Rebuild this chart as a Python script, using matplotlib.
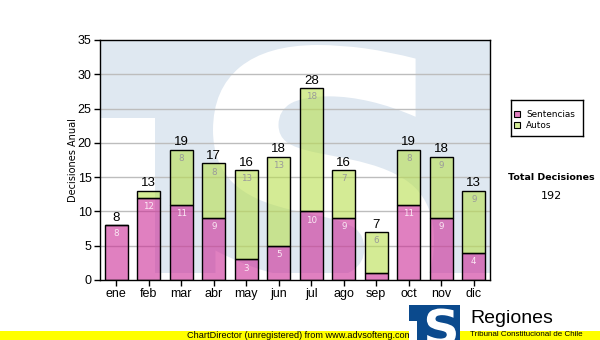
import matplotlib
matplotlib.use("Agg")
import matplotlib.pyplot as plt
from matplotlib.patches import Rectangle, PathPatch
from matplotlib.textpath import TextPath
from matplotlib.font_manager import FontProperties
from matplotlib.transforms import Affine2D

# Monthly decisions
months = ["ene", "feb", "mar", "abr", "may", "jun", "jul", "ago", "sep", "oct", "nov", "dic"]
sentencias = [8, 12, 11, 9, 3, 5, 10, 9, 1, 11, 9, 4]
autos = [0, 1, 8, 8, 13, 13, 18, 7, 6, 8, 9, 9]
y_ticks = [0, 5, 10, 15, 20, 25, 30, 35]
total_decisiones = sum(sentencias) + sum(autos)

W, H = 600, 340
fig = plt.figure(figsize=(W / 100, H / 100), dpi=100)
fig.patch.set_facecolor("white")

ax = fig.add_axes([100 / W, (H - 280) / H, 390 / W, 240 / H])
ax.set_facecolor("white")

LIGHT = "#dfe8f1"
YELLOW = "#ffff00"


def draw_logo(a, blue, stem_x, bar_y, s_box):
    """Square emblem: coloured field, white notch lower-left and a white S."""
    a.add_patch(Rectangle((0, bar_y[0]), 1, 1 - bar_y[0], transform=a.transAxes,
                          facecolor=blue, edgecolor="none", zorder=0))
    a.add_patch(Rectangle((0, 0), stem_x, bar_y[1], transform=a.transAxes,
                          facecolor="white", edgecolor="none", zorder=0.1))
    tp = TextPath((0, 0), "S", size=1, prop=FontProperties(family="DejaVu Sans", weight="bold"))
    ext = tp.get_extents()
    x0, x1, y0, y1 = s_box
    tr = (Affine2D().translate(-ext.x0, -ext.y0)
          .scale((x1 - x0) / ext.width, (y1 - y0) / ext.height)
          .translate(x0, y0) + a.transAxes)
    a.add_patch(PathPatch(tp, transform=tr, facecolor="white", edgecolor="none", zorder=0.2))


# background emblem inside the plot area
draw_logo(ax, LIGHT, 55 / 390, (7 / 240, 162 / 240),
          ((213 - 100) / 390, (434 - 100) / 390, (280 - 330) / 240, (280 - 45) / 240))

x = list(range(len(months)))
bw = 0.71
pink = (0.80, 0.17, 0.59, 0.6)
green = (0.72, 0.87, 0.31, 0.6)

ax.bar(x, sentencias, width=bw, color=pink, edgecolor="black", linewidth=1.0, zorder=3)
ax.bar(x, autos, width=bw, bottom=sentencias, color=green, edgecolor="black", linewidth=1.0, zorder=3)

for i in x:
    s, a_ = sentencias[i], autos[i]
    if s >= 2:
        ax.annotate(str(s), (i, s), xytext=(0, -3), textcoords="offset points",
                    ha="center", va="top", fontsize=6.3, color="#fbe8f4",
                    family="DejaVu Sans", zorder=4)
    if a_ >= 2:
        ax.annotate(str(a_), (i, s + a_), xytext=(0, -3), textcoords="offset points",
                    ha="center", va="top", fontsize=6.3, color="#9a9a9a",
                    family="DejaVu Sans", zorder=4)
    ax.annotate(str(s + a_), (i, s + a_), xytext=(0, 1), textcoords="offset points",
                ha="center", va="bottom", fontsize=9.5, color="black",
                family="Liberation Sans", zorder=4)

ax.set_xlim(-0.5, len(months) - 0.5)
ax.set_ylim(0, 35)
ax.set_yticks(y_ticks)
ax.set_xticks(x)
ax.set_xticklabels(months)
for lbl in ax.get_xticklabels() + ax.get_yticklabels():
    lbl.set_family("Liberation Sans")
    lbl.set_fontsize(9)
ax.tick_params(axis="both", direction="out", length=4, width=1, color="black", pad=2)
for y in y_ticks[1:-1]:
    ax.axhline(y, color="#bdbdbd", linewidth=1.0, zorder=1)
for sp in ax.spines.values():
    sp.set_color("black")
    sp.set_linewidth(1.0)
    sp.set_zorder(5)
fig.text(73 / W, 1 - 160 / H, "Decisiones Anual", rotation=90, ha="center", va="center",
         family="DejaVu Sans", fontsize=7)

# legend
leg_ax = fig.add_axes([511 / W, (H - 136) / H, 72 / W, 36 / H])
leg_ax.set_xlim(0, 72)
leg_ax.set_ylim(36, 0)
leg_ax.set_xticks([])
leg_ax.set_yticks([])
for sp in leg_ax.spines.values():
    sp.set_linewidth(1.0)
    sp.set_color("black")
for yy, col, name in [(14, "#e07fc0", "Sentencias"), (25, "#d6ee98", "Autos")]:
    leg_ax.add_patch(Rectangle((3, yy - 3), 6, 6, facecolor=col, edgecolor="black", linewidth=0.8))
    leg_ax.text(15, yy, name, va="center", ha="left", fontsize=6.4, family="DejaVu Sans")

fig.text(551 / W, 1 - 178 / H, "Total Decisiones", ha="center", va="center",
         fontsize=6.8, fontweight="bold", family="DejaVu Sans")
fig.text(551 / W, 1 - 196 / H, str(total_decisiones), ha="center", va="center",
         fontsize=8, family="DejaVu Sans")

# footer band, drawn in a pixel-space overlay
footer = fig.add_axes([0, 0, 1, 1], zorder=2)
footer.set_axis_off()
footer.set_xlim(0, W)
footer.set_ylim(H, 0)
footer.add_patch(Rectangle((0, 331), W, 9, facecolor=YELLOW, edgecolor="none", zorder=1))
footer.text(300, 335.5, "ChartDirector (unregistered) from www.advsofteng.com",
            ha="center", va="center", fontsize=6.6, family="Liberation Sans", zorder=2)

logo_ax = fig.add_axes([409 / W, 0, 51 / W, 35 / H], zorder=3)
logo_ax.set_axis_off()
draw_logo(logo_ax, "#0b4a8d", 0.16, (0.0, 0.55), (0.35, 0.92, -0.15, 0.9))

title_ax = fig.add_axes([0, 0, 1, 1], zorder=4)
title_ax.set_axis_off()
title_ax.set_xlim(0, W)
title_ax.set_ylim(H, 0)
title_ax.add_patch(Rectangle((460, 331), W - 460, 9, facecolor=YELLOW, edgecolor="none", zorder=1))
title_ax.text(470, 323, "Regiones", ha="left", va="baseline",
              fontsize=14, family="Liberation Sans", zorder=2)
title_ax.text(470, 331.5, "Tribunal Constitucional de Chile", ha="left", va="top",
              fontsize=5.8, family="Liberation Sans", zorder=2)

fig.savefig("out.png", dpi=100)
